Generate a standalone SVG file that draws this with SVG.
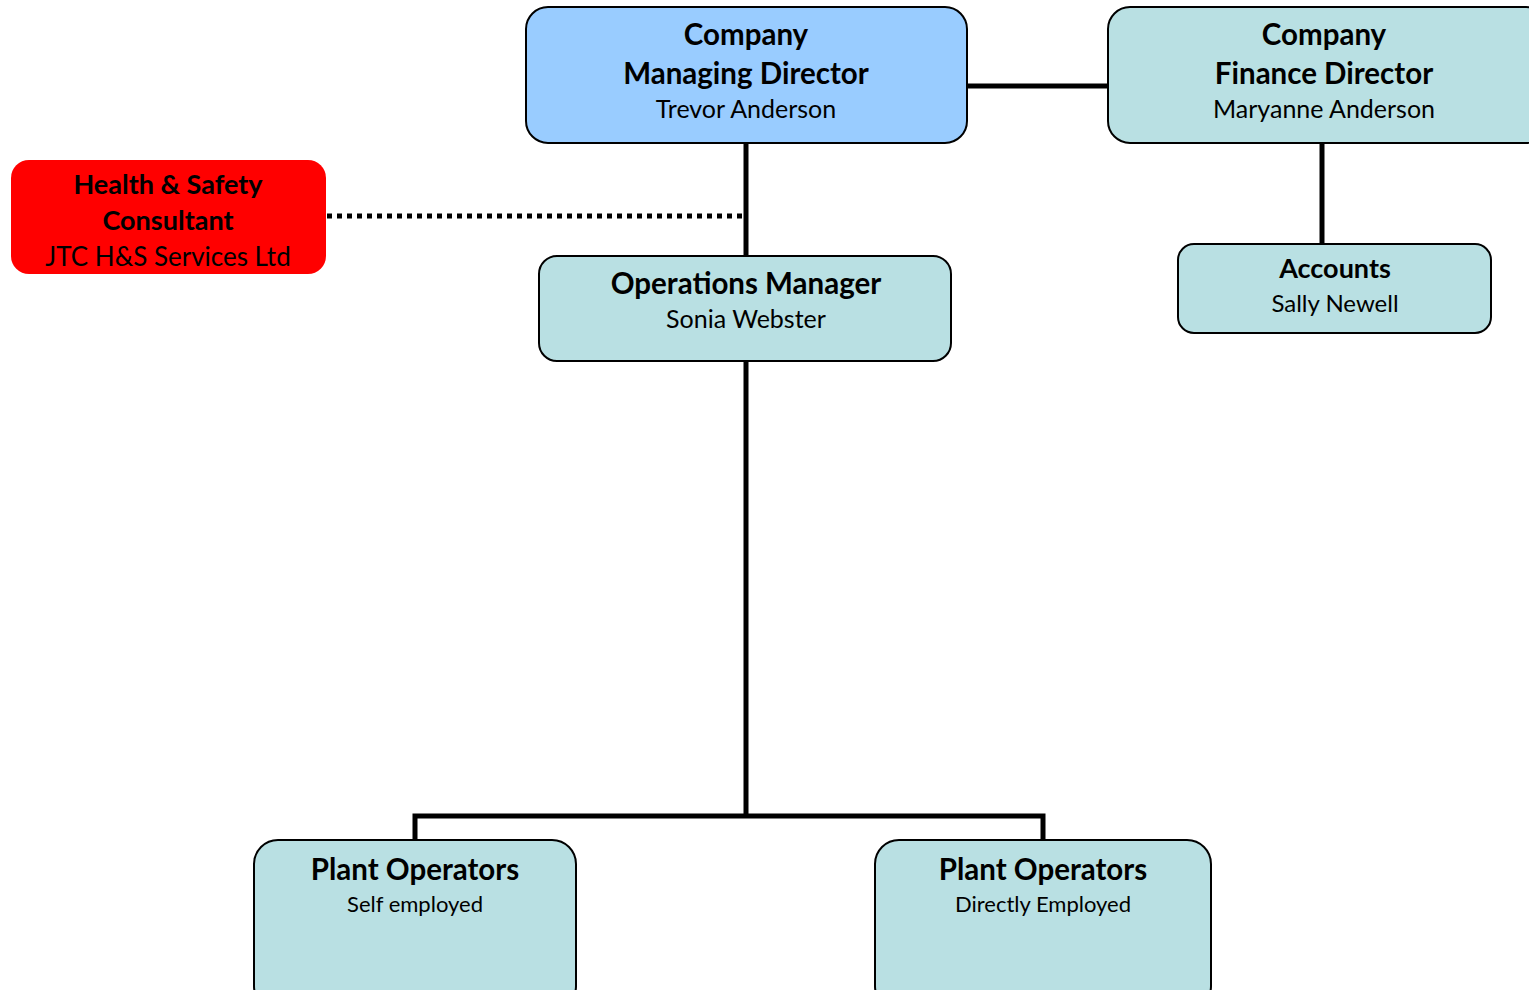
<svg xmlns="http://www.w3.org/2000/svg" width="1529" height="990" viewBox="0 0 1529 990">
<style>
.box{stroke:#000;stroke-width:2}
.teal{fill:#B9E0E3}
.b{font-family:Lato,"Liberation Sans",sans-serif;font-weight:bold;font-size:29.5px;text-anchor:middle;fill:#000}
.r{font-family:Lato,"Liberation Sans",sans-serif;font-size:25px;text-anchor:middle;fill:#000}
.ln{stroke:#000;stroke-width:5;fill:none}
</style>
<rect width="1529" height="990" fill="#fff"/>
<g id="connectors">
<line class="ln" x1="967" y1="86" x2="1108" y2="86"/>
<line class="ln" x1="746" y1="143" x2="746" y2="256"/>
<line class="ln" x1="327" y1="216" x2="744" y2="216" stroke-dasharray="5,5"/>
<line class="ln" x1="1322" y1="143" x2="1322" y2="244"/>
<line class="ln" x1="746" y1="361" x2="746" y2="816"/>
<polyline class="ln" points="415,840 415,816 1043,816 1043,840"/>
</g>
<g id="md">
<rect class="box" x="526" y="7" width="441" height="136" rx="22" fill="#99CCFF"/>
<text class="b" x="746" y="45">Company</text>
<text class="b" x="746" y="84">Managing Director</text>
<text class="r" x="746" y="118">Trevor Anderson</text>
</g>
<g id="fd">
<rect class="box teal" x="1108" y="7" width="440" height="136" rx="22"/>
<text class="b" x="1324" y="45">Company</text>
<text class="b" x="1324" y="84">Finance Director</text>
<text class="r" x="1324" y="118">Maryanne Anderson</text>
</g>
<g id="hs">
<rect x="11" y="160" width="315" height="114" rx="18" fill="#FF0000"/>
<text class="b" x="168" y="194" style="font-size:27px">Health &amp; Safety</text>
<text class="b" x="168" y="230" style="font-size:27px">Consultant</text>
<text class="r" x="168" y="266" style="font-size:26px">JTC H&amp;S Services Ltd</text>
</g>
<g id="ops">
<rect class="box teal" x="539" y="256" width="412" height="105" rx="18"/>
<text class="b" x="746" y="294">Operations Manager</text>
<text class="r" x="746" y="328">Sonia Webster</text>
</g>
<g id="accounts">
<rect class="box teal" x="1178" y="244" width="313" height="89" rx="16"/>
<text class="b" x="1335" y="278" style="font-size:27px">Accounts</text>
<text class="r" x="1335" y="312" style="font-size:24px">Sally Newell</text>
</g>
<g id="plant-self">
<rect class="box teal" x="254" y="840" width="322" height="170" rx="24"/>
<text class="b" x="415" y="880">Plant Operators</text>
<text class="r" x="415" y="912" style="font-size:22px">Self employed</text>
</g>
<g id="plant-direct">
<rect class="box teal" x="875" y="840" width="336" height="170" rx="24"/>
<text class="b" x="1043" y="880">Plant Operators</text>
<text class="r" x="1043" y="912" style="font-size:22px">Directly Employed</text>
</g>
</svg>
